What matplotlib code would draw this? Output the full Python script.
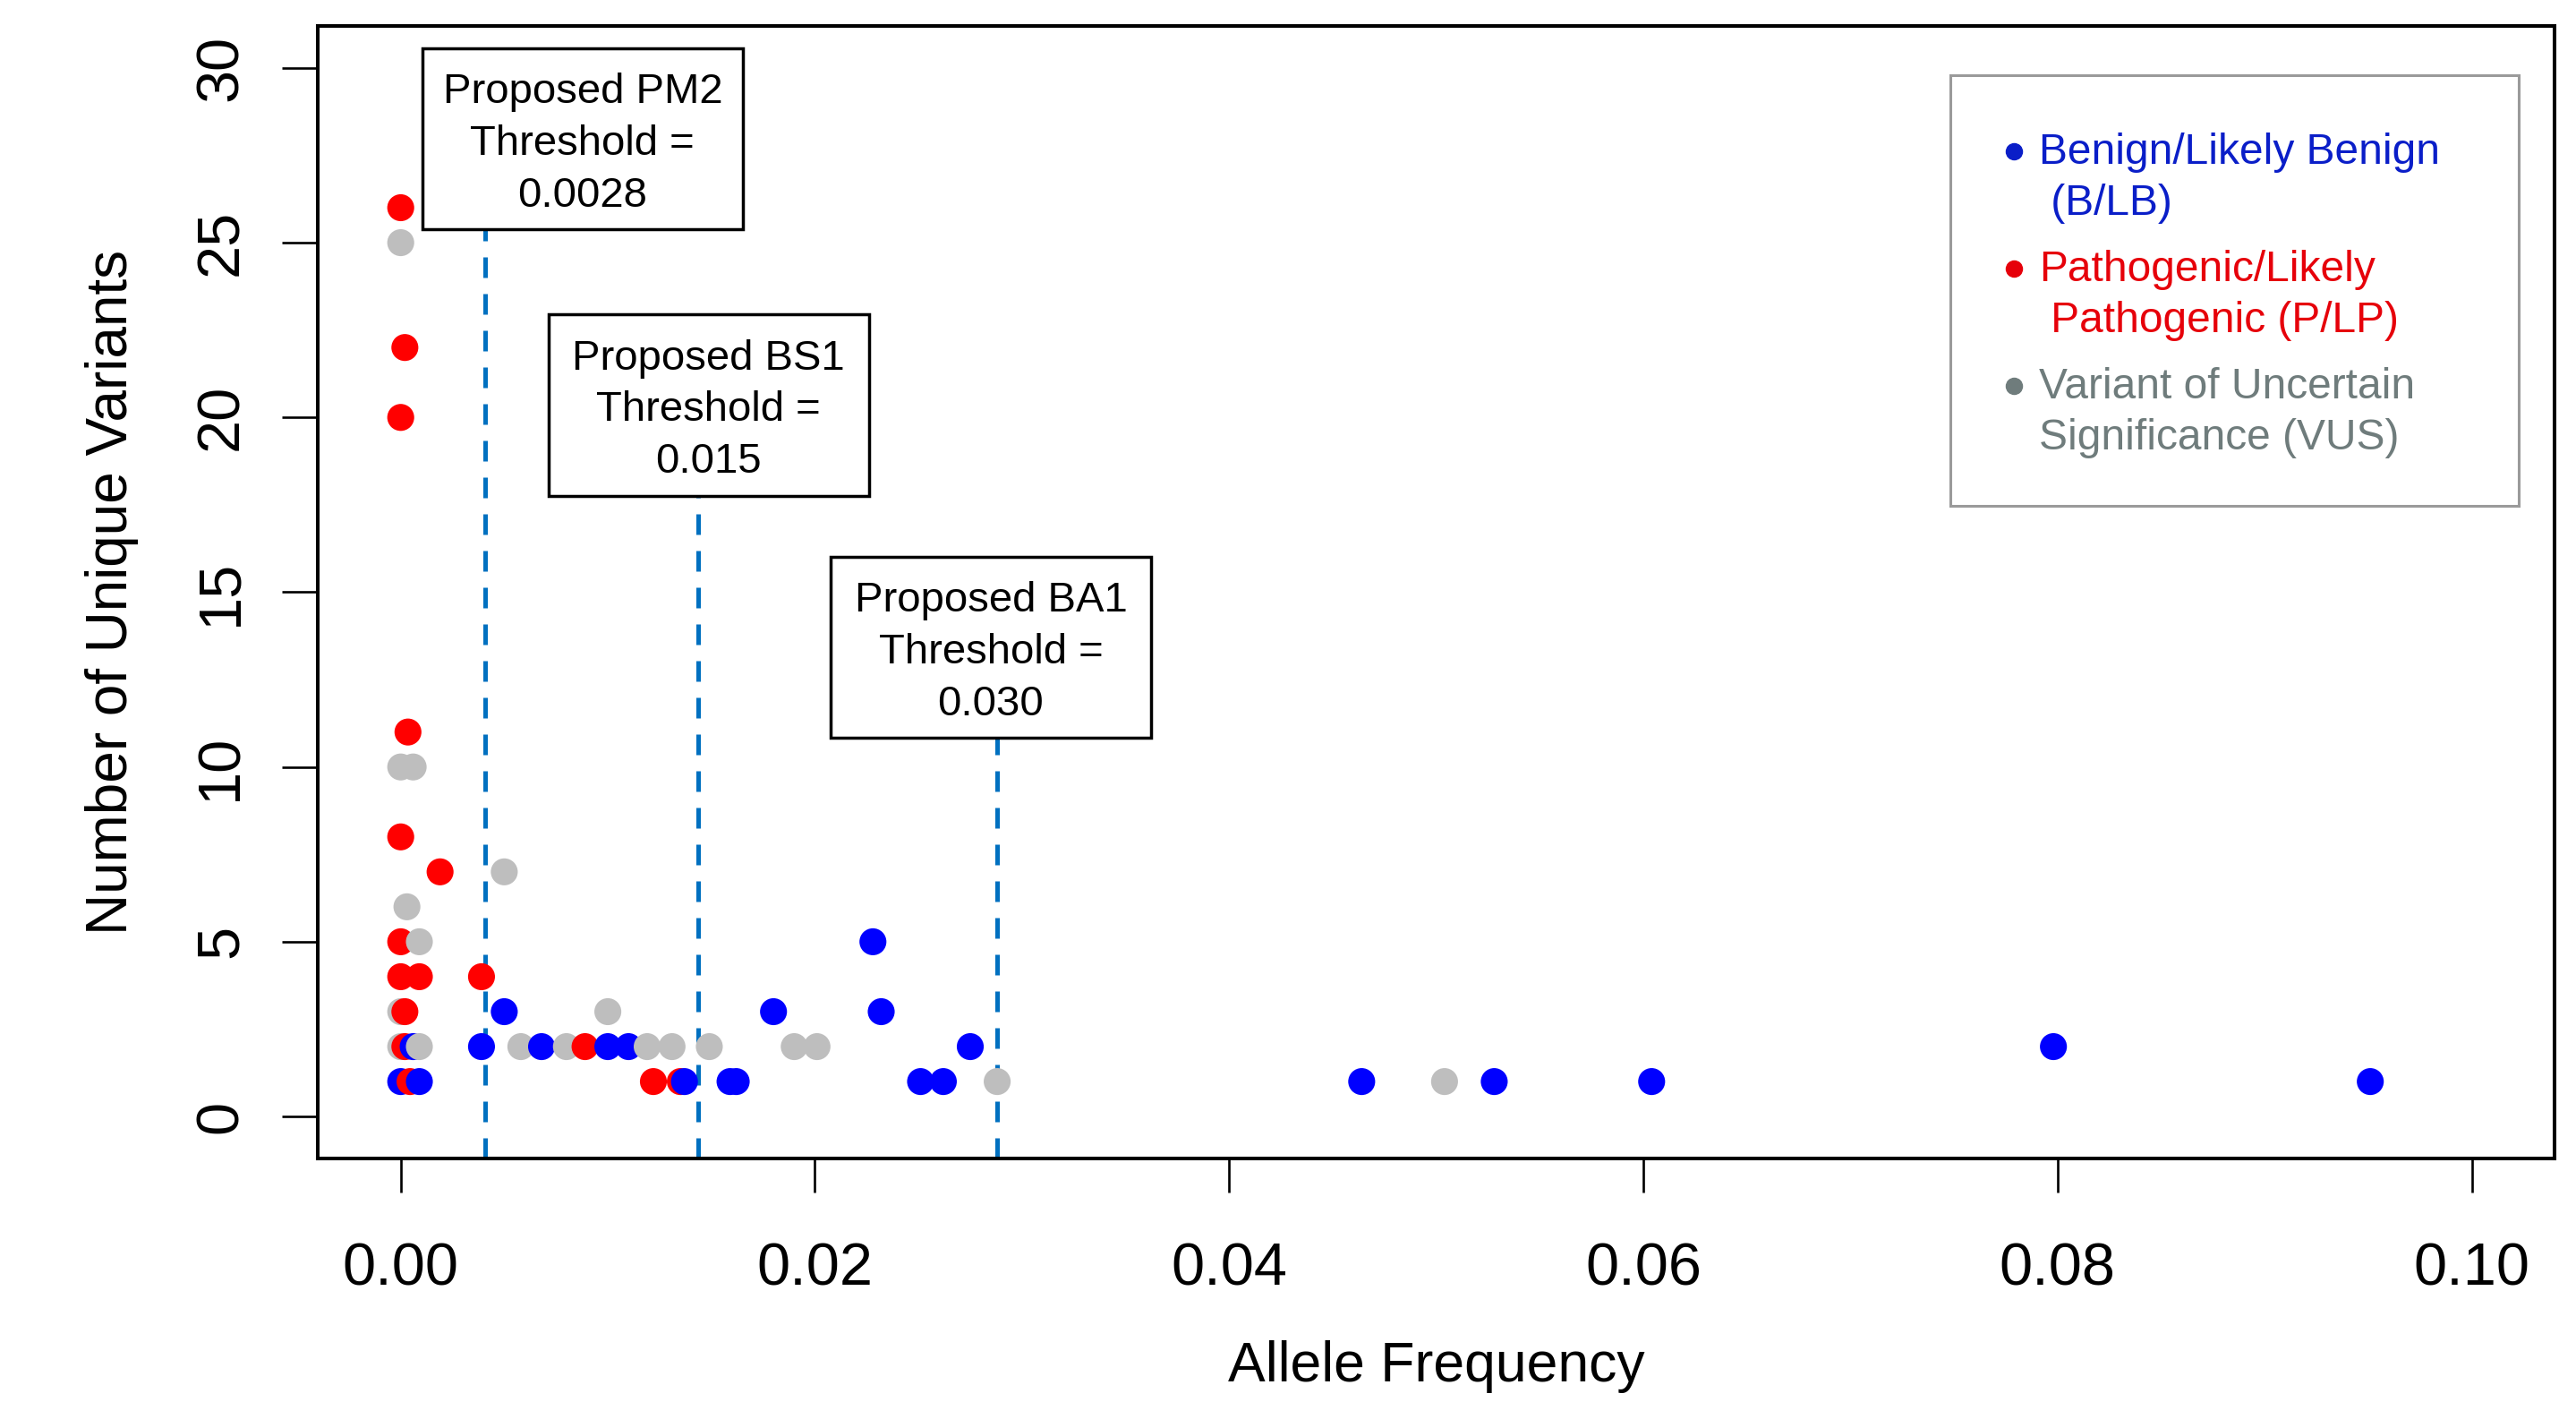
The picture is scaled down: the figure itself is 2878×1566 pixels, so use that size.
import numpy as np
import matplotlib
matplotlib.use("Agg")
import matplotlib.pyplot as plt
from matplotlib.patches import Rectangle

plt.rcParams['font.family'] = ['Liberation Sans', 'DejaVu Sans']

# allele frequency / number of unique variants
blb_af = [0.0000, 0.0006, 0.0009, 0.0039, 0.0050, 0.0068, 0.0100, 0.0110, 0.0137,
          0.0159, 0.0162, 0.0180, 0.0228, 0.0232, 0.0251, 0.0262, 0.0275, 0.0464,
          0.0528, 0.0604, 0.0798, 0.0951]
blb_n = [1, 2, 1, 2, 3, 2, 2, 2, 1, 1, 1, 3, 5, 3, 1, 1, 2, 1, 1, 1, 2, 1]

plp_af = [0.0000, 0.0002, 0.0000, 0.00035, 0.0000, 0.0019, 0.0000, 0.0000, 0.0009,
          0.0039, 0.0002, 0.0002, 0.00045, 0.0089, 0.0122, 0.0135]
plp_n = [26, 22, 20, 11, 8, 7, 5, 4, 4, 4, 3, 2, 1, 2, 1, 1]

vus_af = [0.0000, 0.0000, 0.0006, 0.0050, 0.0003, 0.0009, 0.0000, 0.0000, 0.0009,
          0.0058, 0.0080, 0.0100, 0.0119, 0.0131, 0.0149, 0.0190, 0.0201, 0.0288, 0.0504]
vus_n = [25, 10, 10, 7, 6, 5, 3, 2, 2, 2, 2, 3, 2, 2, 2, 2, 2, 1, 1]

# threshold lines and their labels
thr_x = [0.00406, 0.01436, 0.02878]
thr_labels = ["Proposed PM2\nThreshold =\n0.0028",
              "Proposed BS1\nThreshold =\n0.015",
              "Proposed BA1\nThreshold =\n0.030"]
thr_label_x = [0.00878, 0.01487, 0.02849]
thr_label_y = [27.97, 20.35, 13.42]

legend_labels = ["Benign/Likely Benign\n (B/LB)",
                 "Pathogenic/Likely\n Pathogenic (P/LP)",
                 "Variant of Uncertain\nSignificance (VUS)"]
legend_colors = ['#0A1EC8', '#E6000A', '#6F7C7C']

xticks = [0.00, 0.02, 0.04, 0.06, 0.08, 0.10]
yticks = [0, 5, 10, 15, 20, 25, 30]

fig = plt.figure(figsize=(28.78, 15.66), dpi=100)
ax = fig.add_axes([0.1234, 0.1737, 0.8683, 0.8078])

# draw in order of allele frequency, like the original
af = np.array(blb_af + plp_af + vus_af)
nn = np.array(blb_n + plp_n + vus_n)
cols = np.array(['#0000FF'] * len(blb_af) + ['#FF0000'] * len(plp_af) + ['#BEBEBE'] * len(vus_af))
order = np.argsort(af, kind='stable')
ax.scatter(af[order], nn[order], c=cols[order], s=470, linewidths=0, zorder=3)

ax.set_xlim(-0.004, 0.104)
ax.set_ylim(-1.2, 31.2)

# label boxes: 358 x 202 px
box_w = 0.01546
box_h = 5.18
for x, lx, ly, lab in zip(thr_x, thr_label_x, thr_label_y, thr_labels):
    ax.plot([x, x], [-1.2, ly], color='#0070C0', lw=3.6, dashes=(4.6, 3.6), zorder=2)
    ax.add_patch(Rectangle((lx - box_w / 2, ly - box_h / 2), box_w, box_h,
                           fc='white', ec='black', lw=2.5, zorder=4))
    ax.text(lx, ly - 0.15, lab, ha='center', va='center', fontsize=34, linespacing=1.4, zorder=5)

# legend box
ax.add_patch(Rectangle((0.7299, 0.5763), 0.2541, 0.3802, transform=ax.transAxes,
                       fill=False, ec='#9A9A9A', lw=2.2, zorder=6))
for i, (lab, c) in enumerate(zip(legend_labels, legend_colors)):
    yb = 0.8655 - i * 0.1035
    ax.plot([0.7583], [yb + 0.0235], 'o', color=c, ms=13, transform=ax.transAxes, zorder=7)
    ax.text(0.7695, yb, lab, color=c, fontsize=34.5, linespacing=1.34,
            ha='left', va='center', transform=ax.transAxes, zorder=7)

ax.set_xticks(xticks)
ax.set_xticklabels(['%.2f' % v for v in xticks])
ax.set_yticks(yticks)
ax.set_yticklabels([str(v) for v in yticks], rotation=90, va='center')
ax.tick_params(axis='x', length=27, width=1.9, labelsize=48, pad=40)
ax.tick_params(axis='y', length=29, width=1.9, labelsize=48, pad=26)
for s in ax.spines.values():
    s.set_linewidth(2.9)

ax.set_xlabel('Allele Frequency', fontsize=45)
ax.xaxis.set_label_coords(0.5, -0.184)
ax.xaxis.label.set_va('center')
ax.set_ylabel('Number of Unique Variants', fontsize=46)
ax.yaxis.set_label_coords(-0.092, 0.5)
ax.yaxis.label.set_va('center')

fig.savefig('out.png', dpi=100)
